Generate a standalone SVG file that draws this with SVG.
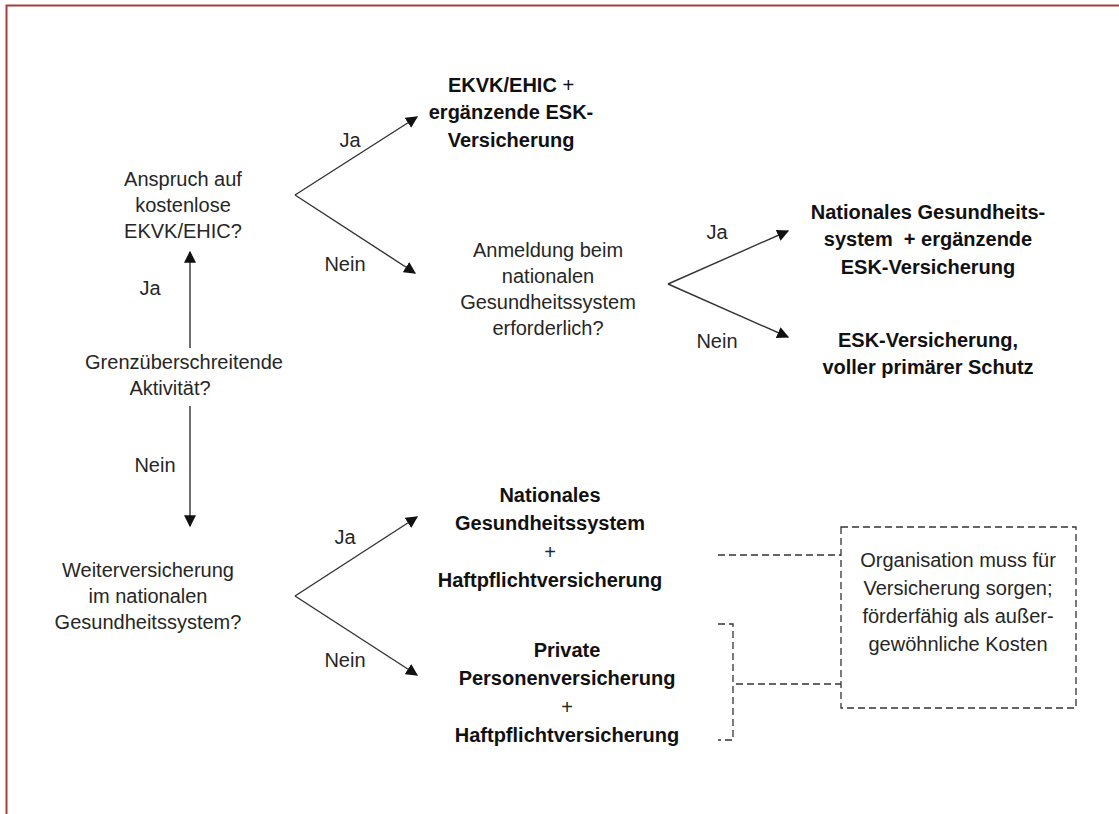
<svg xmlns="http://www.w3.org/2000/svg" width="1119" height="814" viewBox="0 0 1119 814">
<style>
text{font-family:"Liberation Sans",Arial,sans-serif;font-size:20px;fill:#262626;text-anchor:middle}
.b{font-weight:bold;fill:#111}
.n{font-weight:normal}
.c{stroke:#333;stroke-width:1.4;fill:none}
.a{marker-end:url(#ah)}
.d{stroke:#333;stroke-width:1.3;fill:none;stroke-dasharray:7 4}
</style>
<defs>
<marker id="ah" viewBox="0 0 10 10" refX="9" refY="5" markerWidth="12" markerHeight="12" markerUnits="userSpaceOnUse" orient="auto">
<path d="M0,0 L10,5 L0,10 z" fill="#111"/>
</marker>
</defs>
<rect width="1119" height="814" fill="#fff"/>
<path d="M6.5,814 V5.5 H1119" stroke="#a3403d" stroke-width="2" fill="none"/>
<g id="connectors">
<line class="c a" x1="190" y1="348" x2="190" y2="252"/>
<line class="c a" x1="190" y1="406" x2="190" y2="526"/>
<line class="c a" x1="295" y1="195" x2="417" y2="117"/>
<line class="c a" x1="295" y1="195" x2="415" y2="273"/>
<line class="c a" x1="668" y1="284" x2="788" y2="231"/>
<line class="c a" x1="668" y1="284" x2="788" y2="337"/>
<line class="c a" x1="295" y1="596" x2="417" y2="517"/>
<line class="c a" x1="295" y1="596" x2="417" y2="675"/>
<line class="d" x1="718" y1="555" x2="841" y2="555"/>
<path class="d" d="M718,624 H733 V740 H718 M736,684 H841"/>
<text x="150" y="295">Ja</text>
<text x="155" y="472">Nein</text>
<text x="350" y="147">Ja</text>
<text x="345" y="271">Nein</text>
<text x="717" y="239">Ja</text>
<text x="717" y="348">Nein</text>
<text x="345" y="544">Ja</text>
<text x="345" y="667">Nein</text>
</g>
<g id="q1">
<text x="183" y="186">Anspruch auf</text>
<text x="183" y="212">kostenlose</text>
<text x="183" y="238">EKVK/EHIC?</text>
</g>
<g id="q0">
<text x="184" y="369">Grenzüberschreitende</text>
<text x="170" y="395">Aktivität?</text>
</g>
<g id="r1">
<text class="b" x="511" y="92">EKVK/EHIC <tspan class="n">+</tspan></text>
<text class="b" x="511" y="119">ergänzende ESK-</text>
<text class="b" x="511" y="147">Versicherung</text>
</g>
<g id="q2">
<text x="548" y="257">Anmeldung beim</text>
<text x="548" y="283">nationalen</text>
<text x="548" y="309">Gesundheitssystem</text>
<text x="548" y="335">erforderlich?</text>
</g>
<g id="r2">
<text class="b" x="928" y="219">Nationales Gesundheits-</text>
<text class="b" x="928" y="246" xml:space="preserve">system  + ergänzende</text>
<text class="b" x="928" y="274">ESK-Versicherung</text>
</g>
<g id="r3">
<text class="b" x="928" y="347">ESK-Versicherung,</text>
<text class="b" x="928" y="374">voller primärer Schutz</text>
</g>
<g id="q3">
<text x="148" y="577">Weiterversicherung</text>
<text x="148" y="603">im nationalen</text>
<text x="148" y="629">Gesundheitssystem?</text>
</g>
<g id="r4">
<text class="b" x="550" y="502">Nationales</text>
<text class="b" x="550" y="530">Gesundheitssystem</text>
<text x="550" y="559">+</text>
<text class="b" x="550" y="587">Haftpflichtversicherung</text>
</g>
<g id="r5">
<text class="b" x="567" y="657">Private</text>
<text class="b" x="567" y="685">Personenversicherung</text>
<text x="567" y="714">+</text>
<text class="b" x="567" y="742">Haftpflichtversicherung</text>
</g>
<g id="note">
<rect class="d" x="841" y="527" width="235" height="181"/>
<text x="958" y="567">Organisation muss für</text>
<text x="958" y="595">Versicherung sorgen;</text>
<text x="958" y="623">förderfähig als außer-</text>
<text x="958" y="651">gewöhnliche Kosten</text>
</g>
</svg>
